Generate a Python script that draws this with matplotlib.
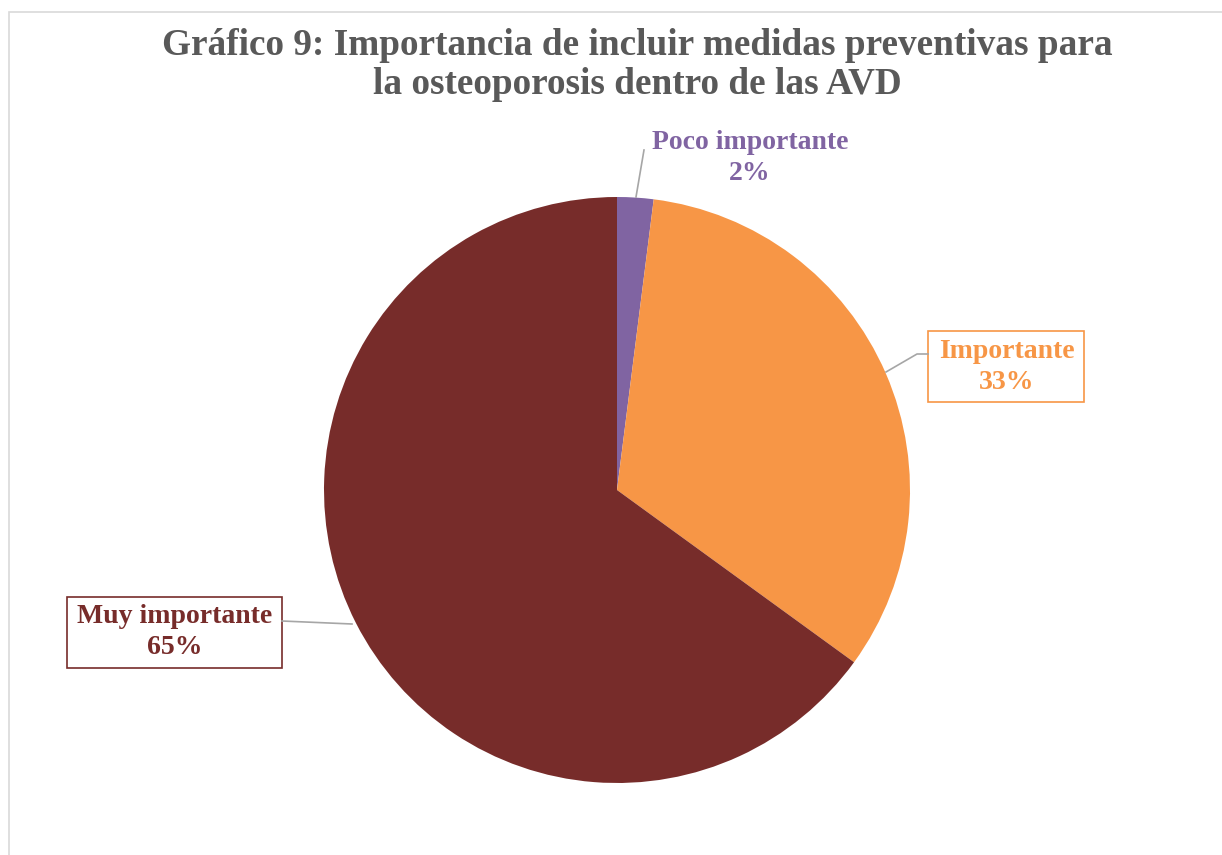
import matplotlib.pyplot as plt
from matplotlib.patches import Rectangle

categorias = ["Poco importante", "Importante", "Muy importante"]
porcentajes = [2, 33, 65]
colores = ["#8064A2", "#F79646", "#772C2A"]
titulo = "Gráfico 9: Importancia de incluir medidas preventivas para\nla osteoporosis dentro de las AVD"

W, H = 1222, 855
fig = plt.figure(figsize=(W / 100, H / 100), dpi=100)
ax = fig.add_axes([0, 0, 1, 1])
ax.set_xlim(0, W)
ax.set_ylim(0, H)
ax.set_aspect("equal")
ax.axis("off")

# borde del grafico
ax.add_patch(Rectangle((9, -10), W, H - 12 + 10, fill=False, ec="#D9D9D9", lw=1.2))

cx, cy, r = 617, H - 490, 293
ax.pie(porcentajes, colors=colores, startangle=90, counterclock=False,
       center=(cx, cy), radius=r, wedgeprops=dict(linewidth=0))
ax.set_xlim(0, W)
ax.set_ylim(0, H)

fig.text(637 / W, 1 - 65 / H, titulo, ha="center", va="center", fontsize=26.8,
         fontweight="bold", family="Liberation Serif", color="#595959",
         linespacing=1.16)

fuente = dict(family="Liberation Serif", fontweight="bold", fontsize=20,
              ha="center", va="center", linespacing=1.35)
gris = "#A6A6A6"

# Poco importante
ax.plot([636, 644], [H - 197, H - 150], color=gris, lw=1.2)
ax.text(750, H - 158, f"{categorias[0]}\n{porcentajes[0]}%", color=colores[0], **fuente)

# Importante
ax.plot([886, 917, 928], [H - 372, H - 354, H - 354], color=gris, lw=1.2)
ax.add_patch(Rectangle((928, H - 402), 156, 71, fill=True, fc="white", ec=colores[1], lw=1.2))
ax.text(1007, H - 367, f"{categorias[1]}\n{porcentajes[1]}%", color=colores[1], **fuente)

# Muy importante
ax.plot([282, 352], [H - 621, H - 624], color=gris, lw=1.2)
ax.add_patch(Rectangle((67, H - 668), 215, 71, fill=True, fc="white", ec=colores[2], lw=1.2))
ax.text(175, H - 632, f"{categorias[2]}\n{porcentajes[2]}%", color=colores[2], **fuente)

fig.savefig("out.png", dpi=100)
